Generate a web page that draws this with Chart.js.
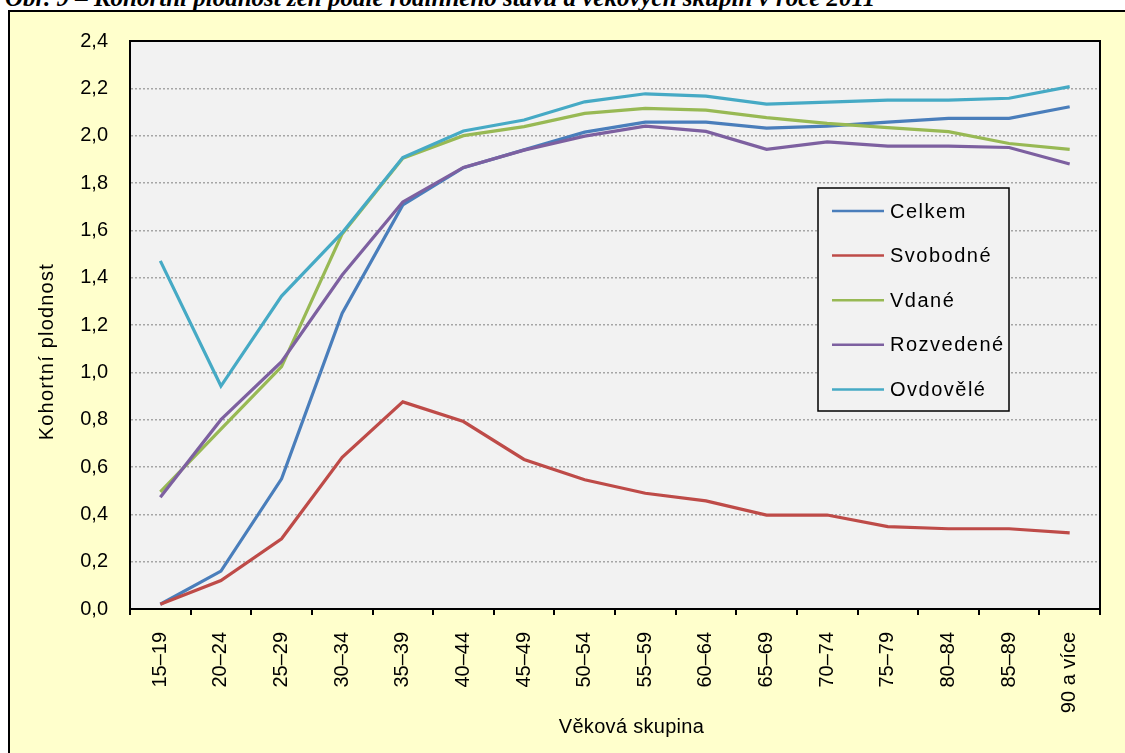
<!DOCTYPE html>
<html lang="cs">
<head>
<meta charset="utf-8">
<title>Kohortní plodnost</title>
<script src="https://cdn.jsdelivr.net/npm/chart.js@4/dist/chart.umd.min.js"></script>
<style>
  html, body { margin: 0; padding: 0; background: #fff; overflow: hidden; }
  body { width: 1125px; height: 753px; position: relative; }
  .nadpis {
    position: absolute; left: 5px; top: -15px; margin: 0;
    font: italic bold 25px "Liberation Serif", "Times New Roman", serif;
    line-height: 25px; white-space: nowrap; color: #000;
  }
  .ramec {
    position: absolute; left: 8px; top: 10px; width: 1130px; height: 760px;
    background: #FFFFCC; border: 2px solid #000;
  }
  #graf { position: absolute; left: 0; top: 0; }
</style>
</head>
<body>
<div class="nadpis">Obr. 9 – Kohortní plodnost žen podle rodinného stavu a věkových skupin v roce 2011</div>
<div class="ramec"></div>
<canvas id="graf" width="1125" height="753"></canvas>
<script>
"use strict";

var vekoveSkupiny = ['15–19', '20–24', '25–29', '30–34', '35–39', '40–44', '45–49', '50–54',
    '55–59', '60–64', '65–69', '70–74', '75–79', '80–84', '85–89', '90 a více'];

var celkem    = [0.02, 0.16, 0.55, 1.25, 1.707, 1.865, 1.94, 2.015, 2.057, 2.057, 2.032, 2.04, 2.057, 2.073, 2.073, 2.122];
var svobodne  = [0.02, 0.12, 0.297, 0.641, 0.875, 0.792, 0.632, 0.546, 0.489, 0.457, 0.397, 0.397, 0.348, 0.339, 0.339, 0.322];
var vdane     = [0.495, 0.76, 1.024, 1.585, 1.905, 2.0, 2.038, 2.094, 2.115, 2.108, 2.076, 2.052, 2.034, 2.017, 1.967, 1.942];
var rozvedene = [0.472, 0.80, 1.045, 1.411, 1.72, 1.866, 1.939, 1.998, 2.04, 2.018, 1.942, 1.974, 1.956, 1.956, 1.95, 1.88];
var ovdovele  = [1.471, 0.942, 1.322, 1.59, 1.908, 2.02, 2.066, 2.143, 2.177, 2.167, 2.133, 2.142, 2.15, 2.15, 2.158, 2.207];

var osaY = { min: 0, max: 2.4, krok: 0.2 };
var nazevX = 'Věková skupina';
var nazevY = 'Kohortní plodnost';

var rady = [
    { label: 'Celkem',    data: celkem,    color: '#4A7EBB' },
    { label: 'Svobodné',  data: svobodne,  color: '#BE4B48' },
    { label: 'Vdané',     data: vdane,     color: '#98B954' },
    { label: 'Rozvedené', data: rozvedene, color: '#7D60A0' },
    { label: 'Ovdovělé',  data: ovdovele,  color: '#46AAC5' }
];

var pismo = '"Liberation Sans", Arial, sans-serif';

// pozadí a rámeček plochy grafu
var plocha = {
    id: 'plocha',
    beforeDraw: function(chart) {
        var a = chart.chartArea, ctx = chart.ctx;
        ctx.save();
        ctx.fillStyle = '#F2F2F2';
        ctx.fillRect(a.left, a.top, a.right - a.left, a.bottom - a.top);
        ctx.restore();
    },
    afterDraw: function(chart) {
        var a = chart.chartArea, ctx = chart.ctx;
        ctx.save();
        ctx.strokeStyle = '#000';
        ctx.lineWidth = 2;
        ctx.strokeRect(a.left, a.top, a.right - a.left, a.bottom - a.top);
        ctx.restore();
    }
};

// názvy os s mírně prostrkaným písmem
var nazvyOs = {
    id: 'nazvyOs',
    afterDraw: function(chart) {
        var a = chart.chartArea, ctx = chart.ctx;
        ctx.save();
        ctx.fillStyle = '#000';
        ctx.font = '20px ' + pismo;
        ctx.textAlign = 'center';
        ctx.textBaseline = 'middle';

        ctx.letterSpacing = '0.3px';
        ctx.fillText(nazevX, a.left + (a.right - a.left) * 0.517, a.bottom + 118);

        ctx.letterSpacing = '1.2px';
        ctx.translate(a.left - 83, a.top + (a.bottom - a.top) * 0.547);
        ctx.rotate(-Math.PI / 2);
        ctx.fillText(nazevY, 0, 0);
        ctx.restore();
    }
};

// legenda v rámečku uvnitř plochy
var legenda = {
    id: 'legenda',
    afterDatasetsDraw: function(chart) {
        var a = chart.chartArea, ctx = chart.ctx;
        var sirka = 191, vyska = 223, radek = 44.6;
        var x = a.right - 91 - sirka, y = a.top + 147;
        ctx.save();
        ctx.fillStyle = '#F2F2F2';
        ctx.fillRect(x, y, sirka, vyska);
        ctx.strokeStyle = '#000';
        ctx.lineWidth = 1.5;
        ctx.strokeRect(x, y, sirka, vyska);
        ctx.font = '20px ' + pismo;
        ctx.letterSpacing = '1.5px';
        ctx.textBaseline = 'middle';
        ctx.fillStyle = '#000';
        chart.data.datasets.forEach(function(ds, i) {
            var ry = y + 23 + i * radek;
            ctx.strokeStyle = ds.borderColor;
            ctx.lineWidth = 2.5;
            ctx.beginPath();
            ctx.moveTo(x + 14, ry);
            ctx.lineTo(x + 66, ry);
            ctx.stroke();
            ctx.fillText(ds.label, x + 72, ry + 1);
        });
        ctx.restore();
    }
};

new Chart(document.getElementById('graf'), {
    type: 'line',
    data: {
        labels: vekoveSkupiny,
        datasets: rady.map(function(r, i) {
            return {
                label: r.label,
                data: r.data,
                borderColor: r.color,
                backgroundColor: r.color,
                borderWidth: 3.2,
                pointRadius: 0,
                tension: 0,
                fill: false,
                order: rady.length - i
            };
        })
    },
    options: {
        responsive: false,
        animation: false,
        devicePixelRatio: 1,
        layout: { padding: { left: 0, top: 41, right: 25, bottom: 0 } },
        plugins: {
            legend: { display: false },
            tooltip: { enabled: false },
            title: { display: false }
        },
        scales: {
            x: {
                offset: true,
                afterFit: function(scale) { scale.height = 144; },
                grid: {
                    offset: true,
                    drawOnChartArea: false,
                    drawTicks: true,
                    tickLength: 6,
                    color: '#000',
                    lineWidth: 2
                },
                border: { display: true, color: '#000', width: 2 },
                ticks: {
                    autoSkip: false,
                    minRotation: 90,
                    maxRotation: 90,
                    padding: 17,
                    color: '#000',
                    font: { family: pismo, size: 20 }
                }
            },
            y: {
                min: osaY.min,
                max: osaY.max,
                afterFit: function(scale) { scale.width = 130; },
                grid: {
                    drawTicks: false,
                    color: '#A6A6A6',
                    lineWidth: 1.5
                },
                border: { display: true, color: '#000', width: 2, dash: [2, 2] },
                ticks: {
                    stepSize: osaY.krok,
                    padding: 22,
                    color: '#000',
                    font: { family: pismo, size: 20 },
                    callback: function(v) { return v.toFixed(1).replace('.', ','); }
                }
            }
        }
    },
    plugins: [plocha, nazvyOs, legenda]
});
</script>
</body>
</html>
